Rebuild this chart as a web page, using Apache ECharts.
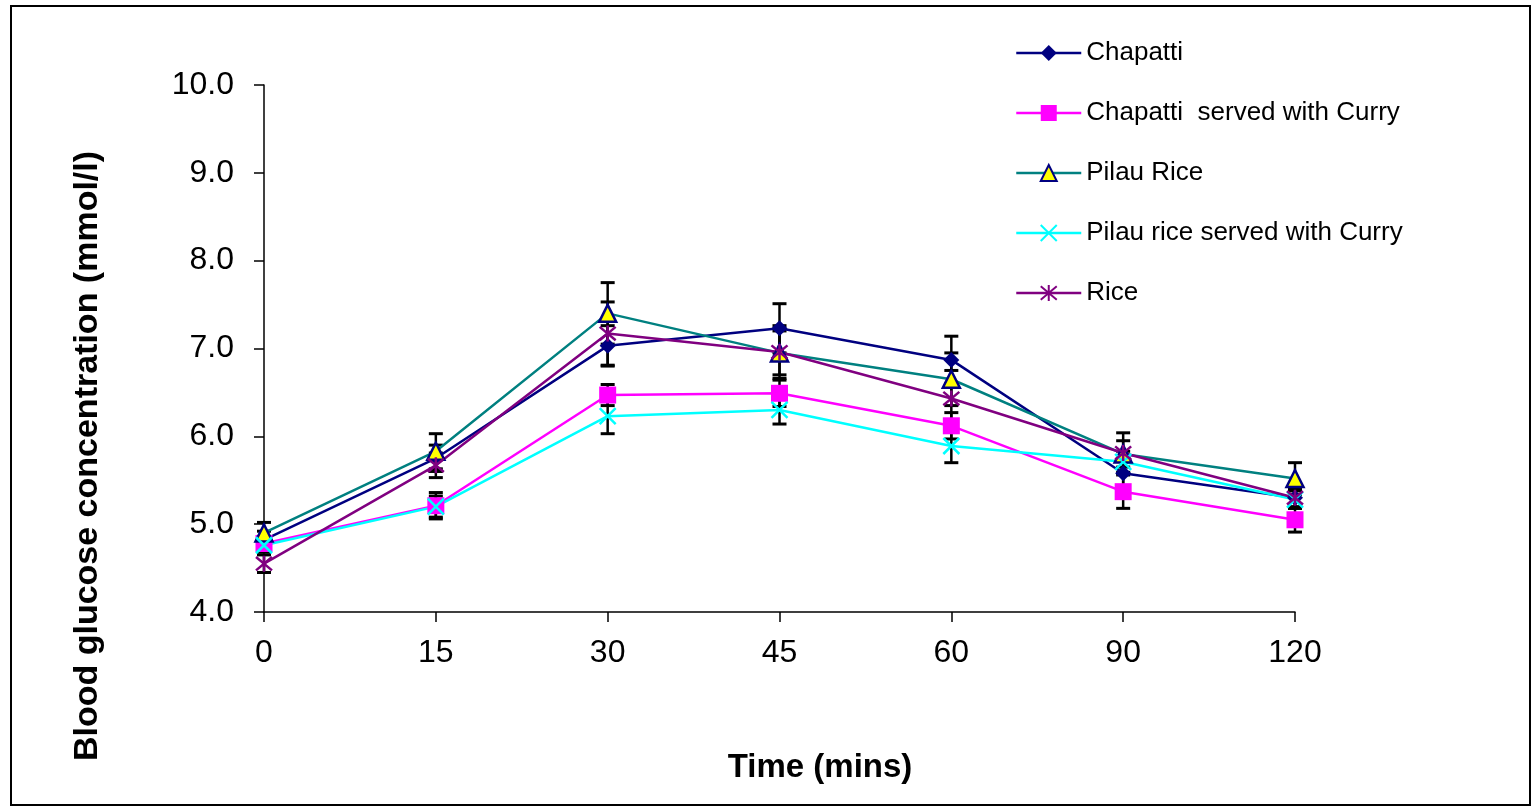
<!DOCTYPE html>
<html>
<head>
<meta charset="utf-8">
<title>Blood glucose response</title>
<script src="https://cdn.jsdelivr.net/npm/echarts@6/dist/echarts.min.js"></script>
<style>
  html, body { margin: 0; padding: 0; background: #fff; }
  #chart { width: 1538px; height: 810px; }
</style>
</head>
<body>
<div id="chart"></div>
<script>
// Sampling times (minutes) after the meal
const timePoints = ['0', '15', '30', '45', '60', '90', '120'];

// Mean blood glucose (mmol/l) per meal
const chapatti          = [4.82, 5.75, 7.03, 7.23, 6.87, 5.58, 5.30];
const chapattiCurry     = [4.78, 5.21, 6.47, 6.49, 6.12, 5.37, 5.05];
const pilauRice         = [4.90, 5.83, 7.40, 6.95, 6.65, 5.80, 5.52];
const pilauRiceCurry    = [4.76, 5.20, 6.23, 6.30, 5.89, 5.71, 5.28];
const rice              = [4.55, 5.67, 7.17, 6.96, 6.43, 5.81, 5.30];

// Standard error of the mean for each meal
const chapattiErr       = [0.10, 0.15, 0.23, 0.28, 0.27, 0.15, 0.10];
const chapattiCurryErr  = [0.08, 0.15, 0.12, 0.15, 0.15, 0.19, 0.14];
const pilauRiceErr      = [0.12, 0.20, 0.35, 0.25, 0.30, 0.15, 0.18];
const pilauRiceCurryErr = [0.08, 0.12, 0.20, 0.16, 0.19, 0.12, 0.10];
const riceErr           = [0.10, 0.14, 0.36, 0.30, 0.32, 0.23, 0.12];

const FONT = 'Liberation Sans, Arial, sans-serif';
const SYMBOL_X = 'path://M0,0L10,10M10,0L0,10';
const SYMBOL_STAR = 'path://M0,0L10,10M10,0L0,10M5,-1L5,11';

const meals = [
  { name: 'Chapatti', values: chapatti, err: chapattiErr, color: '#000080',
    symbol: 'diamond', size: 16, fill: '#000080', border: '#000080', bw: 0 },
  { name: 'Chapatti  served with Curry', values: chapattiCurry, err: chapattiCurryErr, color: '#FF00FF',
    symbol: 'rect', size: 17, fill: '#FF00FF', border: '#FF00FF', bw: 0 },
  { name: 'Pilau Rice', values: pilauRice, err: pilauRiceErr, color: '#008080',
    symbol: 'triangle', size: 17, fill: '#FFFF00', border: '#000080', bw: 2.5 },
  { name: 'Pilau rice served with Curry', values: pilauRiceCurry, err: pilauRiceCurryErr, color: '#00FFFF',
    symbol: SYMBOL_X, size: 16, fill: 'none', border: '#00FFFF', bw: 2.5 },
  { name: 'Rice', values: rice, err: riceErr, color: '#800080',
    symbol: SYMBOL_STAR, size: 16, fill: 'none', border: '#800080', bw: 2.5 }
];

// Error bars: vertical stem with horizontal caps, drawn in black
function errorBarSeries(meal) {
  const data = meal.values.map((v, i) => [i, v - meal.err[i], v + meal.err[i]]);
  return {
    type: 'custom',
    name: meal.name + ' SEM',
    z: 1,
    silent: true,
    data: data,
    encode: { x: 0, y: [1, 2] },
    renderItem: function (params, api) {
      const x = api.value(0);
      const lo = api.coord([x, api.value(1)]);
      const hi = api.coord([x, api.value(2)]);
      const half = 7;
      const capStyle = { stroke: '#000', lineWidth: 3 };
      return {
        type: 'group',
        children: [
          { type: 'line', shape: { x1: lo[0], y1: lo[1], x2: hi[0], y2: hi[1] }, style: { stroke: '#000', lineWidth: 2.5 } },
          { type: 'line', shape: { x1: lo[0] - half, y1: lo[1], x2: lo[0] + half, y2: lo[1] }, style: capStyle },
          { type: 'line', shape: { x1: hi[0] - half, y1: hi[1], x2: hi[0] + half, y2: hi[1] }, style: capStyle }
        ]
      };
    }
  };
}

function lineSeries(meal) {
  return {
    type: 'line',
    name: meal.name,
    z: 2,
    data: meal.values,
    symbol: meal.symbol,
    symbolSize: meal.size,
    showAllSymbol: true,
    animation: false,
    lineStyle: { color: meal.color, width: 2.5 },
    itemStyle: { color: meal.fill, borderColor: meal.border, borderWidth: meal.bw, opacity: 1 },
    emphasis: { disabled: true }
  };
}

const chart = echarts.init(document.getElementById('chart'), null, { renderer: 'canvas' });

chart.setOption({
  animation: false,
  backgroundColor: '#ffffff',
  grid: { left: 264, right: 243, top: 85, bottom: 198 },
  legend: {
    orient: 'vertical',
    left: 1015,
    top: 38,
    padding: 0,
    itemWidth: 65,
    itemHeight: 20,
    itemGap: 30,
    data: meals.map(m => m.name),
    lineStyle: { width: 2.5 },
    textStyle: { fontFamily: FONT, fontSize: 26, color: '#000', lineHeight: 30 },
    selectedMode: false
  },
  xAxis: {
    type: 'category',
    data: timePoints,
    boundaryGap: false,
    axisLine: { lineStyle: { color: '#000', width: 1.5 } },
    axisTick: { show: true, length: 10, lineStyle: { color: '#000', width: 1.5 } },
    axisLabel: { fontFamily: FONT, fontSize: 32, color: '#000', margin: 25 },
    splitLine: { show: false }
  },
  yAxis: {
    type: 'value',
    min: 4,
    max: 10,
    interval: 1,
    axisLine: { show: true, lineStyle: { color: '#000', width: 1.5 } },
    axisTick: { show: true, length: 10, lineStyle: { color: '#000', width: 1.5 } },
    axisLabel: { fontFamily: FONT, fontSize: 32, color: '#000', margin: 30,
                 formatter: v => v.toFixed(1) },
    splitLine: { show: false }
  },
  graphic: [
    { type: 'rect', shape: { x: 11, y: 6, width: 1519, height: 799 },
      style: { fill: 'none', stroke: '#000', lineWidth: 2 }, z: -1, silent: true },
    { type: 'text', x: 820, y: 768,
      style: { text: 'Time (mins)', font: 'bold 33px ' + FONT, fill: '#000',
               textAlign: 'center', textVerticalAlign: 'middle' } },
    { type: 'text', x: 88, y: 456, rotation: Math.PI / 2,
      style: { text: 'Blood glucose concentration (mmol/l)', font: 'bold 34px ' + FONT, fill: '#000',
               textAlign: 'center', textVerticalAlign: 'middle' } }
  ],
  series: meals.map(errorBarSeries).concat(meals.map(lineSeries))
});
</script>
</body>
</html>
